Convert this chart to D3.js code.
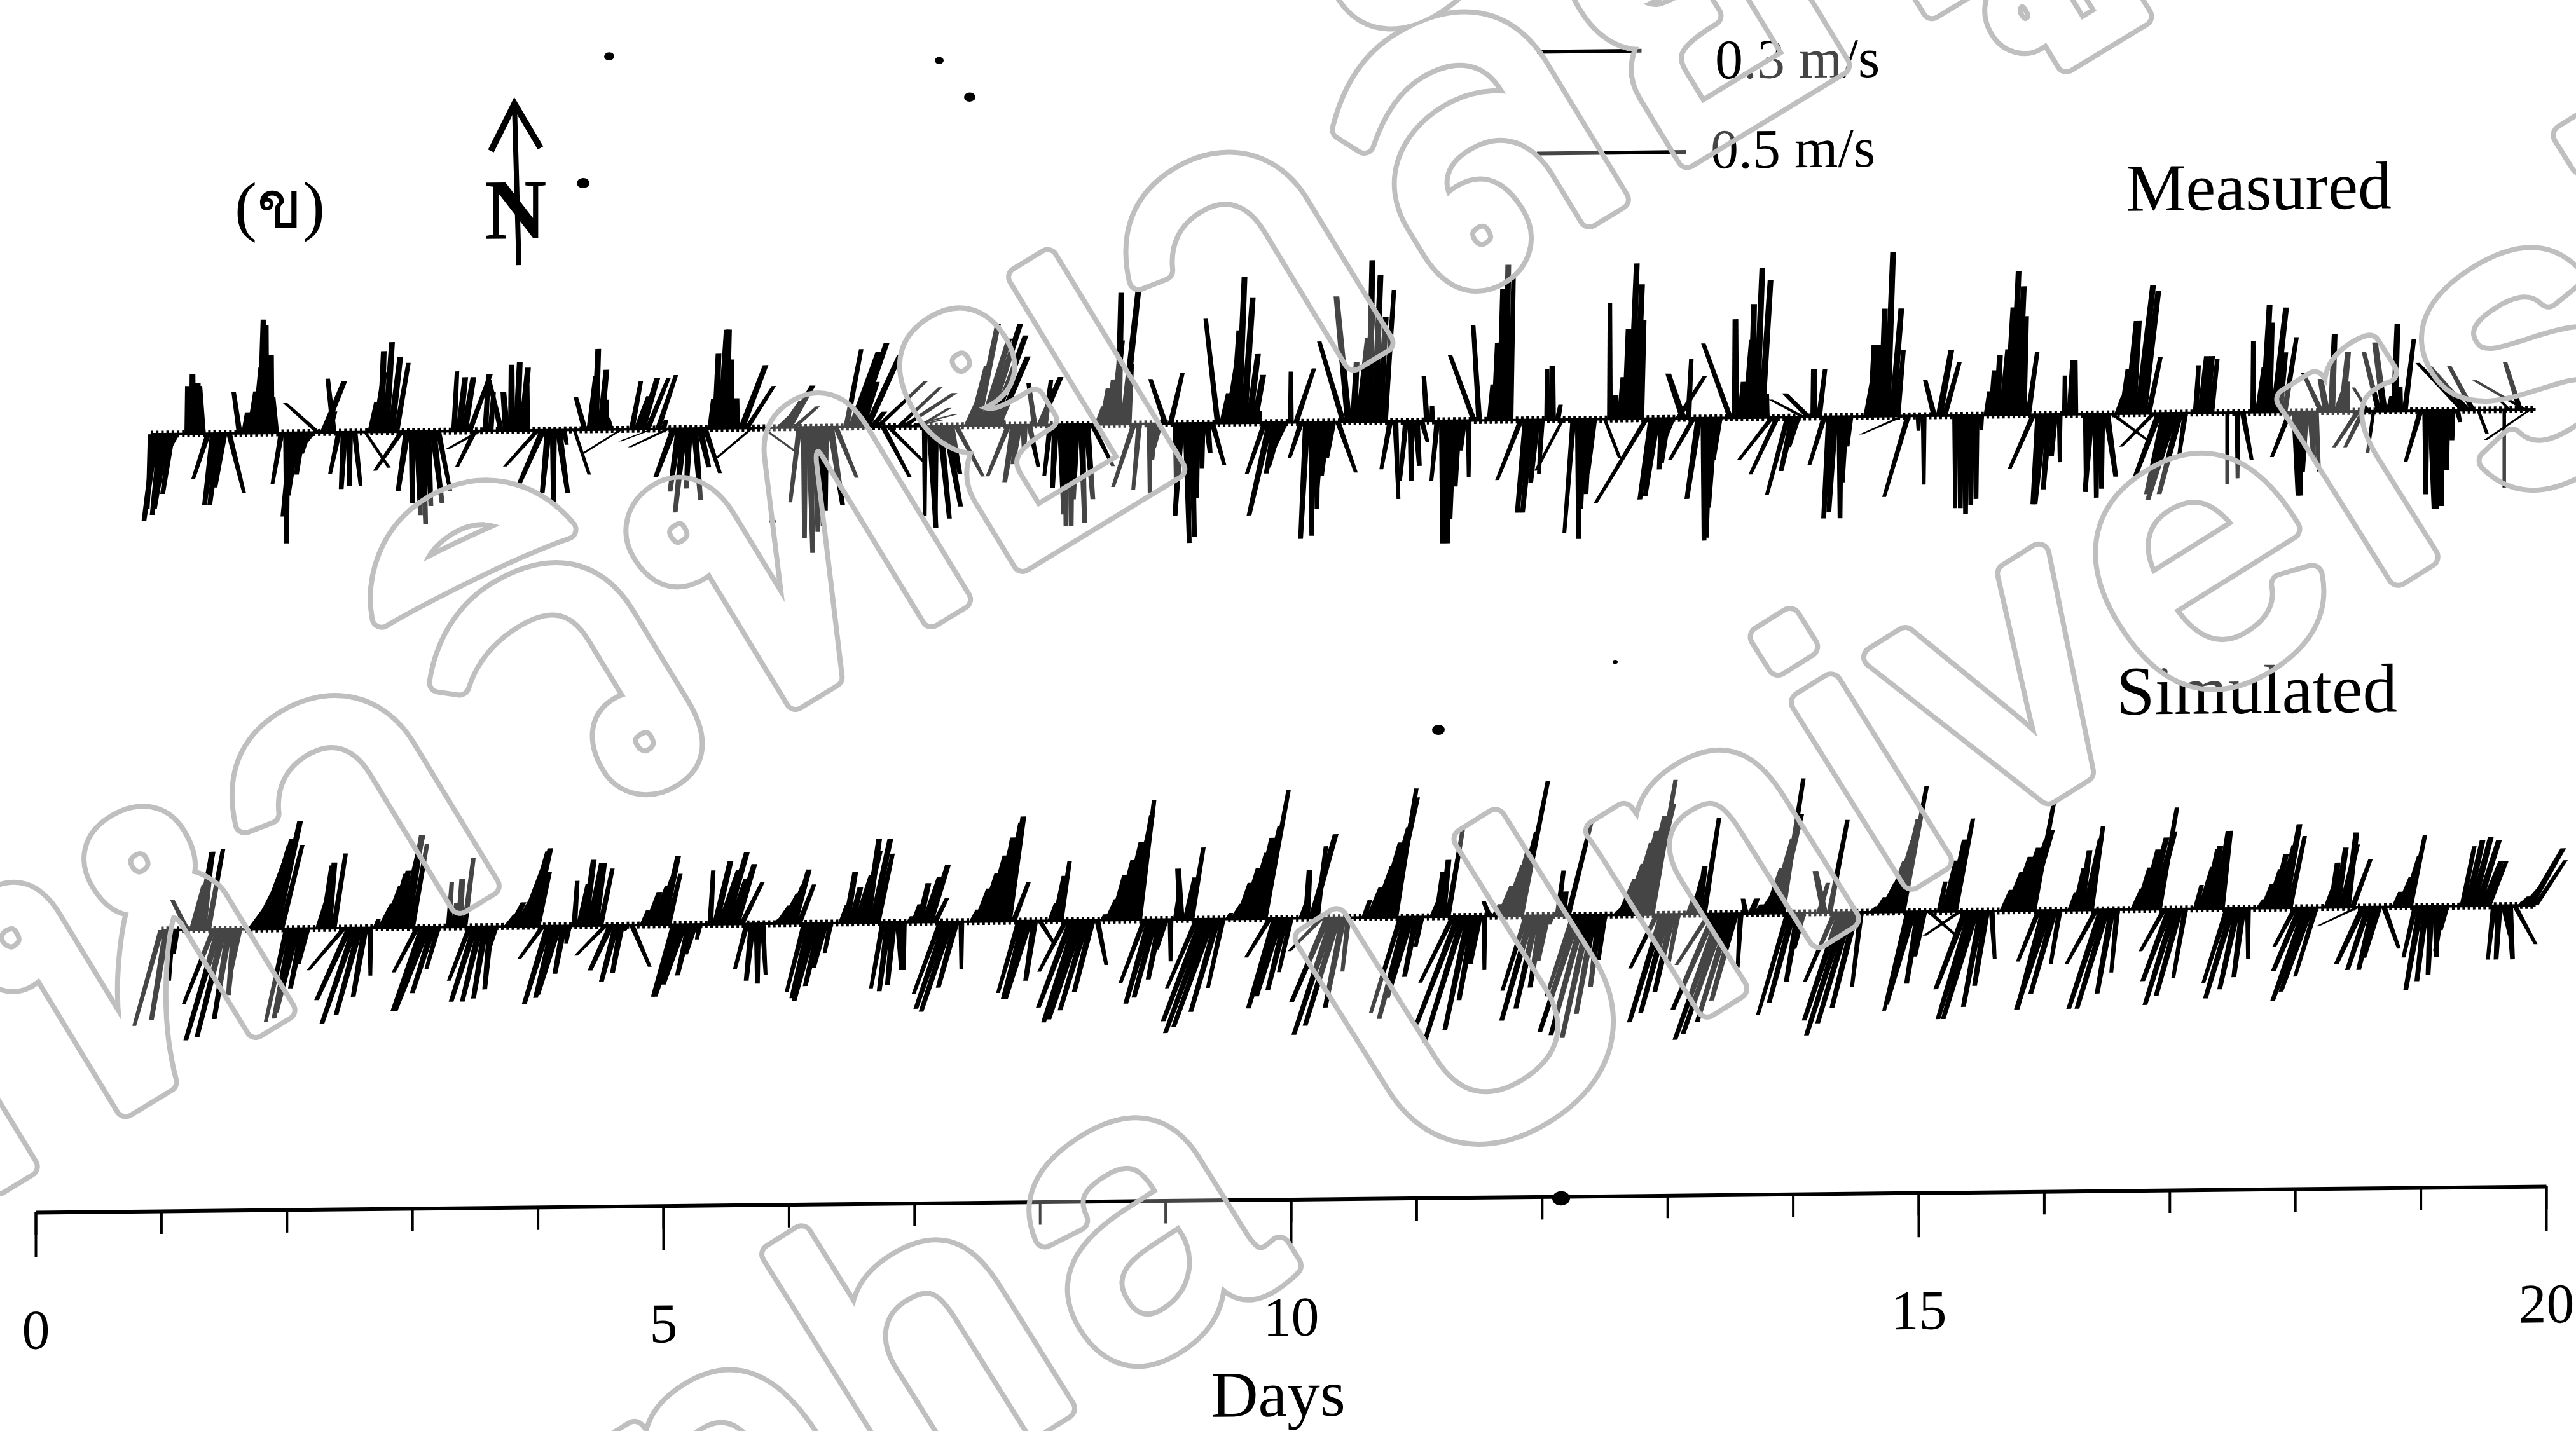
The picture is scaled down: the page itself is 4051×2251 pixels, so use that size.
<!DOCTYPE html>
<html><head><meta charset="utf-8">
<script src="https://cdn.jsdelivr.net/npm/d3@7/dist/d3.min.js"></script>
<style>html,body{margin:0;background:#fff}svg{display:block}text{font-family:"Liberation Serif",serif;fill:#000}</style>
</head><body><svg id="c" width="4051" height="2251"></svg>
<script>
// each stick: [hour, east cm/s, north cm/s]
const measuredSticks=[[22,-1,-25],[23,-4,-29],[24,-3,-27],[25,-4,-25],[26,-3,-20],[27,-3,-6],[29,0,16],[30,0,20],[31,0,17],[32,-1,16],[33,-5,-15],[34,-3,-24],[35,-3,-24],[36,-3,-18],[37,5,-20],[39,-2,14],[40,1,7],[41,2,14],[42,2,22],[43,1,38],[44,0,36],[45,0,26],[46,-1,12],[47,-3,-17],[48,0,-37],[49,-3,-28],[50,-3,-21],[51,-2,-14],[52,-2,-7],[53,-2,-3],[54,-11,10],[55,7,17],[56,2,7],[57,-2,18],[58,-3,-14],[59,-1,-19],[60,0,-18],[61,2,-18],[63,8,-12],[64,2,10],[65,3,20],[66,1,27],[67,2,30],[68,3,25],[69,4,23],[70,-9,-13],[71,-3,-20],[72,0,-24],[73,1,-28],[74,1,-31],[75,1,-25],[76,3,-24],[77,4,-20],[80,1,20],[81,2,18],[82,3,18],[83,7,19],[84,-6,-12],[85,-11,-6],[86,1,19],[87,1,13],[89,-4,17],[90,-1,13],[91,0,22],[92,1,23],[93,2,21],[94,0,15],[96,-11,-12],[97,-8,-18],[98,-2,-21],[99,0,-25],[100,3,-21],[101,1,-5],[103,5,-15],[105,-3,11],[106,2,18],[107,1,27],[108,2,20],[109,0,10],[110,-1,4],[112,-13,-8],[114,3,16],[115,4,11],[116,5,17],[117,7,17],[118,-11,-4],[119,6,18],[120,1,3],[121,-13,-6],[122,-6,-16],[123,-3,-21],[124,-3,-28],[125,-1,-20],[126,2,-24],[127,3,-13],[128,5,-15],[129,1,10],[130,1,25],[131,2,33],[132,1,33],[133,0,23],[134,0,10],[135,8,21],[136,9,14],[137,-12,-10],[139,11,-8],[142,4,4],[143,6,9],[144,8,14],[145,8,7],[146,-3,-25],[147,0,-37],[148,1,-42],[149,1,-35],[150,1,-33],[151,0,-28],[152,4,-26],[153,7,-17],[155,5,26],[156,9,25],[157,10,28],[158,5,15],[159,11,24],[160,4,5],[161,16,15],[162,9,-17],[163,12,-12],[165,14,13],[166,17,11],[167,16,4],[168,9,2],[169,10,6],[170,0,-30],[171,2,-34],[172,0,-32],[173,3,-31],[174,5,-27],[175,3,-16],[176,9,-17],[178,3,7],[179,5,20],[180,7,34],[181,9,29],[182,11,34],[183,11,30],[184,10,23],[185,0,2],[186,-7,-17],[187,-3,-19],[188,-2,-13],[189,0,-8],[190,3,-14],[191,-2,14],[192,7,16],[193,2,15],[194,-2,-17],[195,-1,-21],[196,1,-30],[197,0,-34],[198,0,-34],[199,-1,-25],[200,1,-33],[201,2,-25],[202,7,-14],[203,2,6],[204,2,12],[205,2,15],[206,3,28],[207,1,44],[208,5,45],[209,1,20],[210,-7,-21],[211,-2,-22],[213,0,-23],[214,-1,-12],[215,-2,-8],[216,-5,15],[217,4,17],[218,0,-20],[219,-2,-31],[220,1,-40],[221,1,-38],[222,0,-25],[223,0,-15],[224,1,-10],[225,4,-14],[226,-4,35],[227,2,10],[228,3,20],[229,2,31],[230,2,49],[231,3,42],[232,3,23],[233,3,16],[234,0,4],[235,-6,-17],[236,-7,-31],[237,-3,-17],[238,-4,-15],[239,-4,-9],[240,0,17],[241,6,18],[242,-4,-12],[243,-2,-39],[244,0,-38],[245,0,-29],[246,-2,-25],[247,-2,-18],[248,-2,-12],[249,6,-17],[250,-8,27],[251,-4,42],[252,1,20],[253,3,28],[254,3,38],[255,1,54],[256,2,49],[257,2,35],[258,3,44],[259,-3,-16],[260,1,-26],[262,-2,-20],[263,0,-20],[264,1,-15],[265,2,-7],[266,-1,15],[267,0,5],[268,-2,-20],[269,0,-41],[270,0,-41],[271,-1,-33],[272,-1,-22],[273,-1,-10],[274,0,-19],[275,-8,22],[276,-2,32],[278,1,12],[279,1,26],[280,1,44],[281,1,52],[282,1,48],[284,-8,-20],[285,-3,-31],[286,-3,-31],[287,-2,-21],[288,-1,-18],[289,0,17],[290,0,18],[291,1,5],[292,-9,-17],[294,-3,-38],[295,0,-40],[296,-1,-30],[297,-1,-25],[298,-2,-18],[300,5,-13],[301,0,39],[302,0,8],[303,1,14],[304,1,30],[305,2,52],[306,2,45],[307,1,33],[308,-17,-28],[309,-4,-27],[310,-4,-26],[311,-1,-17],[312,-2,-15],[313,-3,-8],[314,9,14],[315,-5,15],[316,1,20],[317,-8,-14],[318,-4,-27],[319,0,-41],[320,-1,-40],[321,-2,-30],[322,-2,-14],[324,-9,25],[325,0,33],[326,1,12],[327,2,26],[328,1,38],[329,2,50],[330,3,46],[331,0,8],[332,-11,-14],[333,-9,-19],[335,-7,-26],[336,-4,-18],[337,-3,-10],[338,-11,6],[339,-8,8],[340,0,16],[341,2,16],[342,-5,-16],[343,-2,-34],[344,-2,-32],[345,0,-34],[346,-1,-22],[347,-1,-10],[350,2,12],[351,1,24],[352,1,24],[353,1,36],[354,2,55],[355,3,36],[356,2,22],[357,-14,-6],[358,-8,-27],[360,0,-5],[361,0,-23],[363,-3,12],[364,4,22],[365,5,18],[367,0,-31],[368,0,-31],[369,0,-33],[370,0,-30],[371,0,-28],[372,0,-5],[373,1,8],[374,1,15],[375,1,20],[376,2,22],[377,2,36],[378,2,48],[379,2,43],[380,1,33],[381,3,21],[382,-8,-18],[383,-2,-30],[384,-3,-30],[385,-2,-25],[386,-1,-14],[387,0,-16],[388,0,13],[389,1,18],[390,0,18],[392,0,-26],[393,-2,-26],[394,0,-28],[395,0,-25],[396,3,-21],[397,12,-9],[398,2,6],[399,2,15],[400,3,31],[401,2,31],[402,5,43],[403,5,41],[404,4,19],[405,-11,-11],[406,-8,-21],[407,-6,-27],[408,-7,-28],[409,-9,-29],[410,-7,-27],[411,-2,-14],[413,1,16],[414,2,19],[415,2,19],[416,2,18],[419,0,-24],[421,0,-22],[422,3,-16],[424,0,24],[425,2,15],[426,2,36],[427,1,30],[428,4,35],[429,2,20],[430,4,25],[431,-6,-15],[432,1,-28],[433,0,-28],[434,-1,-20],[435,1,-16],[436,1,-20],[437,-6,13],[438,-2,11],[439,1,26],[440,3,9],[441,2,20],[442,0,10],[444,-8,-12],[445,-6,-12],[446,-5,8],[447,-2,-14],[448,-5,20],[449,-3,23],[450,1,5],[451,1,29],[452,0,8],[453,3,24],[456,-5,-17],[457,0,-28],[458,1,-33],[459,0,-33],[460,0,-32],[461,0,-20],[462,0,-10],[463,1,-4],[464,-15,16],[465,-13,15],[466,-8,15],[467,3,-8],[472,0,-26],[473,-3,3],[475,-5,16],[476,-17,10],[477,-15,-10],[478,1,0]];
const simulatedSticks=[[24,-9,-32],[25,-5,-30],[26,-1,-17],[27,-1,-8],[29,-5,10],[30,4,15],[31,5,26],[32,3,26],[33,5,27],[34,-10,-25],[35,-11,-37],[36,-9,-36],[37,-5,-30],[38,-2,-22],[39,-3,-15],[41,5,7],[42,7,14],[43,8,22],[44,8,28],[45,7,30],[46,8,36],[47,7,28],[48,-7,-31],[49,-6,-30],[50,-7,-28],[51,-4,-20],[52,-3,-12],[54,3,10],[55,3,21],[56,2,22],[57,4,25],[59,-12,-14],[60,-11,-24],[61,-11,-32],[62,-8,-29],[63,-4,-23],[64,0,-16],[65,1,3],[66,4,8],[67,5,14],[68,5,18],[69,4,19],[70,7,31],[71,5,31],[72,5,28],[73,-8,-15],[74,-10,-28],[75,-11,-28],[76,-7,-22],[77,-4,-14],[79,1,15],[80,1,8],[81,1,16],[82,3,23],[83,-7,-18],[84,-8,-25],[85,-6,-25],[86,-4,-24],[87,-2,-21],[88,-3,-10],[90,3,4],[91,4,8],[92,5,9],[93,7,19],[94,7,25],[95,6,26],[96,4,18],[97,-8,-11],[98,-8,-26],[99,-6,-24],[100,-7,-23],[101,-3,-16],[102,-1,-6],[103,1,15],[104,3,14],[105,3,22],[106,4,21],[107,3,21],[108,4,19],[109,-10,-10],[110,-7,-15],[111,-5,-19],[112,-3,-16],[113,-1,-2],[114,6,-14],[116,2,5],[117,4,11],[118,5,13],[119,5,16],[120,5,23],[121,4,17],[122,-7,-24],[123,-8,-24],[124,-7,-20],[125,-4,-17],[126,-3,-10],[127,-1,-5],[129,1,18],[130,5,21],[131,6,18],[132,7,24],[133,5,15],[134,6,20],[135,7,14],[136,-4,-15],[137,-2,-19],[138,0,-20],[139,1,-17],[141,3,2],[142,4,6],[143,5,10],[144,5,13],[145,5,18],[146,5,13],[147,-6,-23],[148,-6,-25],[149,-7,-26],[150,-5,-21],[151,-4,-15],[152,-2,-10],[154,2,6],[155,3,17],[156,3,12],[157,5,16],[158,6,24],[159,4,28],[160,6,28],[161,5,23],[162,-4,-22],[163,-3,-23],[164,-2,-21],[165,1,-16],[166,0,-16],[167,1,2],[168,2,6],[169,3,13],[170,5,15],[171,6,19],[172,4,8],[173,-9,-24],[174,-10,-29],[175,-10,-30],[176,-6,-22],[177,0,-16],[179,2,4],[180,4,11],[181,5,16],[182,6,22],[183,6,24],[184,5,28],[185,6,33],[186,5,35],[187,5,13],[188,-7,-24],[189,-7,-26],[190,-8,-26],[191,-3,-20],[192,5,-8],[194,2,6],[195,3,15],[196,3,20],[197,-9,-17],[198,-11,-29],[199,-11,-34],[200,-11,-33],[201,-9,-30],[202,-6,-24],[203,3,-15],[204,1,2],[205,3,7],[206,4,15],[207,5,20],[208,6,26],[209,7,30],[210,6,35],[211,5,40],[212,-8,-21],[213,-8,-28],[214,-7,-26],[215,-4,-20],[216,-3,-10],[217,0,-14],[218,1,8],[219,-1,17],[220,3,14],[221,4,24],[222,-10,-23],[223,-13,-34],[224,-14,-38],[225,-13,-36],[226,-9,-31],[227,-5,-23],[228,1,2],[229,3,5],[230,4,12],[231,5,17],[232,6,22],[233,6,27],[234,7,31],[235,8,43],[236,-8,-13],[237,-9,-30],[238,-8,-26],[239,-6,-24],[240,-4,-18],[242,2,6],[243,1,16],[244,8,28],[245,3,24],[246,-11,-11],[247,-12,-28],[248,-13,-39],[249,-11,-36],[250,-6,-30],[251,-2,-18],[254,2,6],[255,4,10],[256,6,17],[257,7,25],[258,8,30],[259,9,40],[260,7,43],[261,-10,-32],[262,-9,-34],[263,-8,-27],[264,-4,-20],[265,-2,-10],[267,2,5],[268,2,15],[269,2,19],[270,5,29],[271,-11,-22],[272,-14,-36],[273,-13,-42],[274,-8,-38],[275,-5,-28],[276,-3,-16],[277,0,-18],[278,-2,5],[279,2,4],[280,4,10],[281,6,17],[282,6,22],[283,7,28],[284,9,45],[285,-8,-25],[286,-10,-35],[287,-7,-31],[288,-4,-24],[289,-3,-15],[290,-1,-3],[291,2,15],[292,1,8],[293,8,32],[294,-9,-27],[295,-13,-39],[296,-11,-40],[297,-9,-41],[298,-6,-33],[299,-3,-24],[300,-2,-15],[302,3,3],[303,5,12],[304,6,17],[305,7,24],[306,7,28],[307,8,33],[308,9,37],[309,8,45],[310,-9,-18],[311,-11,-36],[312,-9,-33],[313,-6,-26],[314,-3,-16],[316,2,6],[317,3,12],[318,2,16],[319,5,32],[320,-11,-17],[321,-14,-32],[322,-15,-42],[323,-14,-40],[324,-11,-36],[325,-8,-29],[326,-1,-18],[327,-1,5],[328,2,5],[329,2,3],[330,5,8],[331,5,15],[332,7,25],[333,8,33],[334,7,45],[335,-10,-34],[336,-8,-30],[337,-4,-23],[338,-3,-12],[341,3,10],[342,-3,14],[343,6,31],[344,-10,-23],[345,-12,-36],[346,-13,-41],[347,-11,-37],[348,-8,-32],[349,-3,-25],[351,2,2],[352,3,5],[353,5,10],[354,6,17],[355,7,24],[356,7,31],[357,8,42],[358,-8,-33],[359,-9,-31],[360,-4,-24],[361,-3,-15],[362,9,-8],[364,2,10],[365,4,17],[366,5,24],[367,6,31],[368,-12,-8],[369,-10,-26],[370,-11,-36],[371,-11,-36],[372,-6,-32],[373,-4,-25],[374,1,-16],[376,3,7],[377,5,13],[378,6,18],[379,7,21],[380,8,24],[381,8,27],[382,7,37],[383,-7,-17],[384,-9,-33],[385,-11,-33],[386,-8,-28],[387,-3,-18],[389,2,6],[390,3,14],[391,3,20],[392,5,24],[393,4,28],[394,-10,-18],[395,-11,-33],[396,-10,-33],[397,-5,-28],[398,-2,-21],[401,3,7],[402,4,14],[403,5,20],[404,6,24],[405,7,26],[406,6,34],[407,-8,-14],[408,-9,-24],[409,-10,-32],[410,-8,-29],[411,-4,-23],[413,2,8],[414,4,14],[415,4,20],[416,3,21],[417,4,26],[418,3,26],[419,-8,-25],[420,-9,-30],[421,-6,-27],[422,-3,-23],[423,0,-17],[425,2,3],[426,3,8],[427,4,13],[428,4,18],[429,5,21],[430,5,28],[431,5,24],[432,-7,-13],[433,-9,-21],[434,-11,-31],[435,-10,-28],[436,-7,-23],[438,2,6],[439,2,15],[440,3,20],[441,5,21],[442,3,25],[443,6,16],[444,-13,-6],[445,-9,-19],[446,-7,-21],[447,-5,-21],[448,-5,-17],[449,5,-14],[451,2,5],[452,4,10],[453,5,17],[454,5,24],[455,-4,-17],[456,-5,-28],[457,-3,-25],[458,-1,-23],[459,0,-17],[460,-2,-15],[461,-2,-8],[464,4,20],[465,5,22],[466,6,23],[467,7,22],[468,6,15],[469,6,15],[470,-2,-18],[471,-1,-18],[472,2,-10],[473,1,-18],[474,7,-13],[475,3,3],[476,6,7],[477,11,19],[478,10,15]];
const dayTicks=d3.range(0,21),labelledDays=[0,5,10,15,20];
const legendRows=[{label:"0.3 m/s",speed:35},{label:"0.5 m/s",speed:50}];
const seriesLabels=["Measured","Simulated"];
const dust=[[958,98,8],[1477,110,7],[1525,168,9],[917,297,10],[2612,18,11],[2262,1171,10],[2455,1910,14],[1215,832,5],[2540,1067,4]];
const tilt=0.0104;
const svg=d3.select("#c");
const plot=svg.append("g").attr("transform",`matrix(1,${-tilt},0,1,0,${tilt*56})`);
const x=d3.scaleLinear([0,20],[56,4004]);
const speed=d3.scaleLinear([0,100],[0,470]);
const line=d3.line();
function sticks(data,y0){
  const g=plot.append("g");
  const byHour=new Map(data.map(d=>[d[0],d]));
  const hrs=d3.extent(data,d=>d[0]);
  const same=(d,k)=>{const n=byHour.get(d[0]+k);return n&&Math.sign(n[2])===Math.sign(d[2])?1:0;};
  g.append("line").attr("x1",x(hrs[0]/24)).attr("x2",x(hrs[1]/24)).attr("y1",y0).attr("y2",y0).attr("stroke","#000").attr("stroke-width",4);
  g.append("line").attr("x1",x(hrs[0]/24)).attr("x2",x(hrs[1]/24)).attr("y1",y0).attr("y2",y0).attr("stroke","#000").attr("stroke-width",11).attr("stroke-dasharray","4 4.225");
  g.selectAll("path.s").data(data).join("path").attr("class","s")
    .attr("d",d=>{
      const n=same(d,-1)+same(d,1), up=d[2]>0;
      const wb=n===2?11:n===1?9:5.5, wt=n===2?(up?9:7.5):n===1?(up?7:6):5.5;
      const x0=x(d[0]/24), x1=x0+speed(d[1]), y1=y0-speed(d[2]);
      return line([[x0-wb/2,y0],[x0+wb/2,y0],[x1+wt/2,y1],[x1-wt/2,y1]])+"Z";
    }).attr("fill","#000");
}
sticks(measuredSticks,685);
sticks(simulatedSticks,1465);
// axis
const axY=1907;
const minor=plot.append("g").attr("transform",`translate(0,${axY})`).call(d3.axisBottom(x).tickValues(dayTicks).tickSize(36).tickSizeOuter(0).tickFormat(""));
minor.selectAll("line").attr("stroke","#000").attr("stroke-width",4);
minor.select(".domain").attr("stroke","#000").attr("stroke-width",6);
const major=plot.append("g").attr("transform",`translate(0,${axY})`).call(d3.axisBottom(x).tickValues(labelledDays).tickSize(70).tickSizeOuter(0).tickPadding(82));
major.select(".domain").remove();
major.selectAll("line").attr("stroke","#000").attr("stroke-width",4);
major.selectAll("text").attr("font-family","Liberation Serif").attr("font-size",88);
function label(s,xx,yy,fs,anchor){return plot.append("text").text(s).attr("x",xx).attr("y",yy).attr("font-size",fs).attr("text-anchor",anchor||"start");}
label("Days",2010,2248,103,"middle");
label(seriesLabels[0],3343,366,106);
label(seriesLabels[1],3328,1158,109);
label("(ข)",369,363,105);
label("N",762,383,135).attr("font-weight","bold");
plot.append("path").attr("d",d3.line()([[816,425],[809,171]])).attr("stroke","#000").attr("stroke-width",8).attr("fill","none");
plot.append("path").attr("d",d3.line()([[772,245],[809,171],[850,241]])).attr("stroke","#000").attr("stroke-width",10).attr("fill","none");
legendRows.forEach((r,i)=>{
  const yy=[106,266][i];
  plot.append("line").attr("x1",2417).attr("x2",2417+speed(r.speed)).attr("y1",yy).attr("y2",yy).attr("stroke","#000").attr("stroke-width",6);
  label(r.label,[2697,2690][i],[151,292][i],88);
});
plot.selectAll("ellipse").data(dust).join("ellipse").attr("cx",d=>d[0]).attr("cy",d=>d[1]).attr("rx",d=>d[2]).attr("ry",d=>d[2]*.8).attr("fill","#000");
// watermark: outlined fat glyphs with a faint white interior
const defs=svg.append("defs");
function watermark(id,str,tf,fs,ls,outer,inner){
  const put=(sel,col,w)=>sel.append("text").text(str).attr("transform",tf).attr("font-size",fs).attr("letter-spacing",ls)
    .style("font-family","'Liberation Sans'").style("fill",col).style("stroke",col).style("stroke-width",w).style("stroke-linejoin","round");
  const m=defs.append("mask").attr("id",id).attr("maskUnits","userSpaceOnUse").attr("x",0).attr("y",0).attr("width",4051).attr("height",2251);
  put(m,"#fff",outer); put(m,"#000",inner);
  put(svg,"#fff",inner).attr("opacity",.27);
  svg.append("rect").attr("width",4051).attr("height",2251).attr("fill","#bfbfbf").attr("mask",`url(#${id})`);
}
watermark("wmLatin","Burapha University","translate(-140,3349) rotate(-32)",620,36,40,24);
watermark("wmThai","มหาวิทยาลัยบูรพา","translate(-290,2038) rotate(-31.3)",695,0,38,22);
</script></body></html>
